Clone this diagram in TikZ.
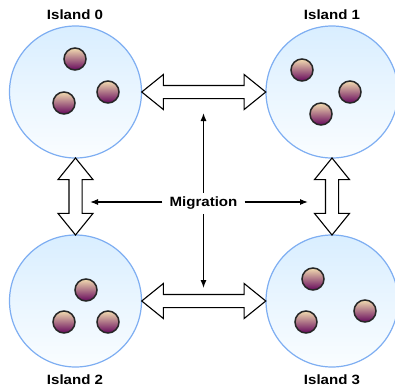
\documentclass[tikz,border=0pt]{standalone}
\usepackage{fontspec}
\setmainfont{Liberation Sans}[FakeStretch=1.12]
\usetikzlibrary{arrows.meta,shapes.arrows,calc}

\definecolor{islandtop}{HTML}{D9EEFF}
\definecolor{islandbot}{HTML}{FAFDFF}
\definecolor{islandedge}{HTML}{7EAEF2}
\definecolor{indtop}{HTML}{F2DCB0}
\definecolor{indmid}{HTML}{A86A94}
\definecolor{indbot}{HTML}{66085C}

\tikzset{
  island/.style={circle, draw=islandedge, line width=1.2bp, minimum size=132bp,
    inner sep=0pt, top color=islandtop, bottom color=islandbot},
  individual/.style={draw=black!85, line width=1.5bp, top color=indtop,
    middle color=indmid, bottom color=indbot},
  label/.style={font=\bfseries\fontsize{13.5}{15}\selectfont, anchor=base},
  migarrow/.style={double arrow, draw=black, fill=white, line width=1.1bp,
    inner sep=6bp, double arrow head extend=11bp, double arrow tip angle=78},
  thinarrow/.style={-{Latex[length=8bp,width=6bp]}, line width=1.1bp}
}

\begin{document}
\begin{tikzpicture}[x=1bp, y=-1bp]
    \useasboundingbox (0,0) rectangle (395,387);

    % Inseln
    \node[island] (i0) at (75.5,92) {};
    \node[island] (i1) at (332,92) {};
    \node[island] (i2) at (75.5,301) {};
    \node[island] (i3) at (332,301) {};

    % Beschriftungen
    \node[label] (l0) at (75,19.3) {Island 0};
    \node[label] (l1) at (332,19.3) {Island 1};
    \node[label] (l2) at (75,384) {Island 2};
    \node[label] (l3) at (332,384) {Island 3};

    % Individuen
    \foreach \px/\py in {75/59, 108/92, 64/103,
                         302/70, 350/92, 321/114,
                         86/290, 64/322, 108/322,
                         313/279, 365/311, 306/322} {
        \path[individual] (\px,\py) circle (11bp);
    }

    % Migrationswege zwischen den Inseln
    \node[migarrow, minimum height=124bp] (m01) at ($(i0.east)!0.5!(i1.west)$) {};
    \node[migarrow, minimum height=124bp] (m23) at ($(i2.east)!0.5!(i3.west)$) {};
    \node[migarrow, minimum height=77bp, rotate=90] (m02) at ($(i0.south)!0.5!(i2.north)$) {};
    \node[migarrow, minimum height=77bp, rotate=90] (m13) at ($(i1.south)!0.5!(i3.north)$) {};

    % Beschriftung in der Mitte
    \node[label, inner xsep=7bp, inner ysep=4bp, text height=10bp, text depth=3bp]
        (mig) at (203.5,206.7) {Migration};
    \coordinate (tipU) at (203.5,113);
    \coordinate (tipD) at (203.5,288);
    \coordinate (tipL) at (90,202);
    \coordinate (tipR) at (308,202);

    \draw[thinarrow] (mig.north) -- (tipU);
    \draw[thinarrow] (mig.south) -- (tipD);
    \draw[thinarrow] (mig.west |- tipL) -- (tipL);
    \draw[thinarrow] (mig.east |- tipR) -- (tipR);
\end{tikzpicture}
\end{document}
